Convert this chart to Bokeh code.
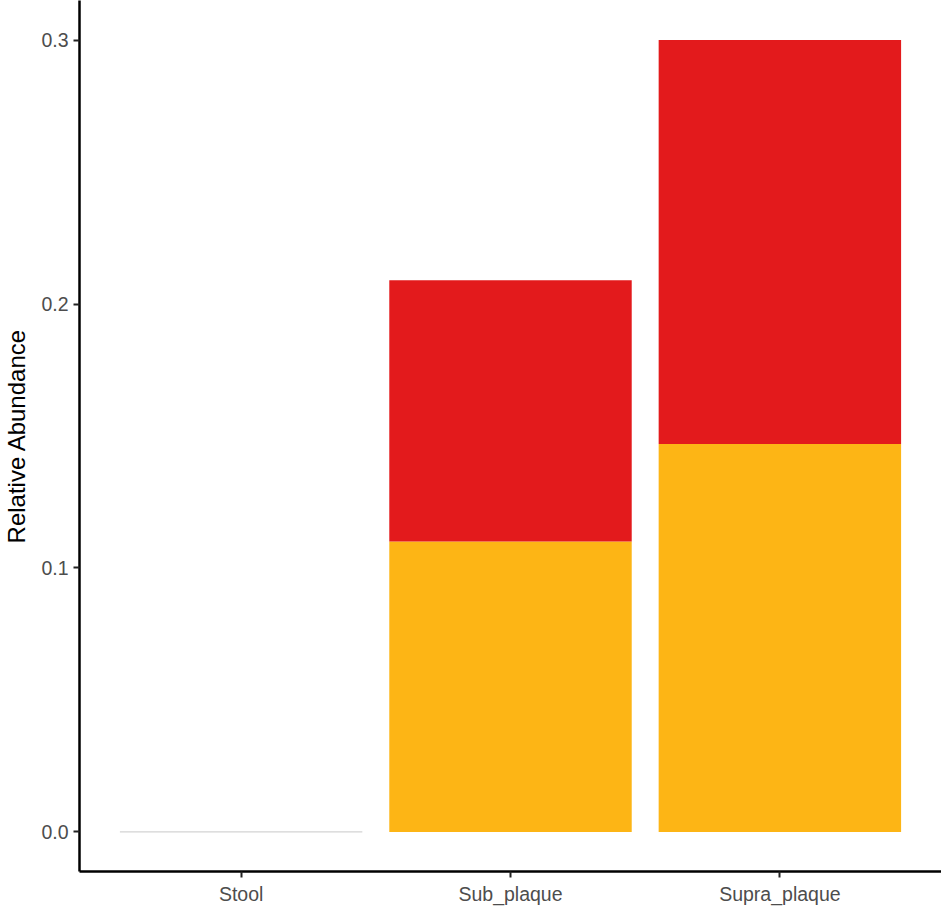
from bokeh.plotting import figure
from bokeh.models import FactorRange, Range1d, FixedTicker, PrintfTickFormatter, ColumnDataSource
from bokeh.transform import dodge
from bokeh.embed import file_html
from bokeh.resources import INLINE

# ---- data ----
categories = ["Stool", "Sub_plaque", "Supra_plaque"]
series_names = ["orange_taxon", "red_taxon"]
orange_values = [0.0, 0.110, 0.147]
red_values = [0.0, 0.099, 0.153]
y_ticks = [0.0, 0.1, 0.2, 0.3]
colors = ["#FDB515", "#E31A1C"]

src = ColumnDataSource(dict(cats=categories, orange_taxon=orange_values, red_taxon=red_values))

p = figure(
    x_range=FactorRange(factors=categories, range_padding=0.2 / 3),
    y_range=Range1d(-0.015, 0.315),
    frame_width=862, frame_height=871,
    min_border_left=67, min_border_right=4, min_border_top=0, min_border_bottom=28,
    output_backend="svg", toolbar_location=None,
    background_fill_color="white", border_fill_color="white",
)
p.outline_line_color = None
p.xgrid.visible = False
p.ygrid.visible = False

p.vbar_stack(series_names, x="cats", width=0.9, color=colors, line_color=None, source=src)

# zero-total bars drawn as a thin baseline
zero_cats = [c for c, o, r in zip(categories, orange_values, red_values) if o + r == 0]
zsrc = ColumnDataSource(dict(cats=zero_cats, y=[0.0] * len(zero_cats)))
p.segment(x0=dodge("cats", -0.45, range=p.x_range), x1=dodge("cats", 0.45, range=p.x_range),
          y0="y", y1="y", line_color="#c8c8c8", line_width=1, source=zsrc)

for ax in (p.xaxis[0], p.yaxis[0]):
    ax.axis_line_color = "black"
    ax.axis_line_width = 2.5
    ax.major_tick_line_color = "#222222"
    ax.major_tick_line_width = 2
    ax.major_tick_in = 0
    ax.major_tick_out = 6
    ax.minor_tick_line_color = None
    ax.major_label_text_color = "#4d4d4d"
    ax.major_label_text_font = "Liberation Sans"
    ax.major_label_text_font_size = "19.5px"
    ax.major_label_standoff = 5

p.yaxis.ticker = FixedTicker(ticks=y_ticks)
p.yaxis.formatter = PrintfTickFormatter(format="%.1f")
p.yaxis.axis_label = "Relative Abundance"
p.yaxis.axis_label_text_font = "Liberation Sans"
p.yaxis.axis_label_text_font_style = "normal"
p.yaxis.axis_label_text_font_size = "24px"
p.yaxis.axis_label_text_color = "black"
p.yaxis.axis_label_standoff = 8

open("out.html", "w").write(file_html(p, INLINE))
